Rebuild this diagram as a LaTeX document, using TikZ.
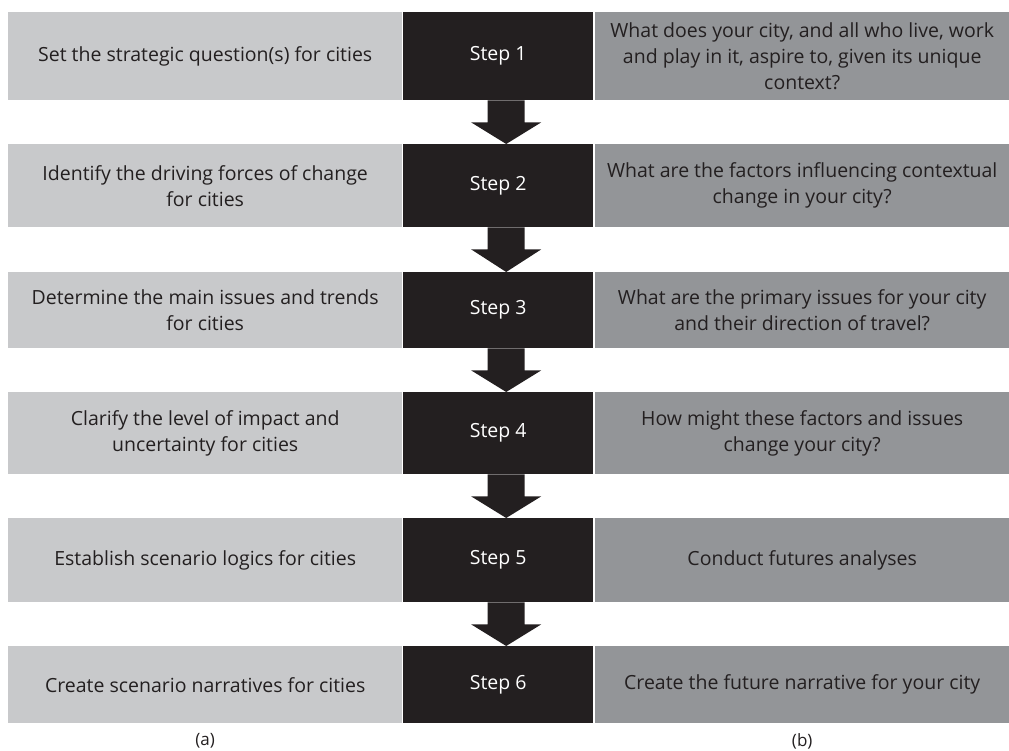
\documentclass[tikz,border=0pt]{standalone}
\usepackage{fontspec}
\setmainfont{Open Sans}
\usetikzlibrary{positioning,calc}
\definecolor{lightpanel}{HTML}{C8C9CB}
\definecolor{darkpanel}{HTML}{939598}
\definecolor{stepblack}{HTML}{231F20}
\definecolor{inktext}{HTML}{231F20}
\tikzset{
  cell/.style={
    anchor=north west,
    inner sep=0pt,
    align=center,
    text=inktext,
    font=\fontsize{19.5}{26}\selectfont
  },
  question/.style={cell, fill=lightpanel, minimum width=394pt},
  stepbox/.style={cell, fill=stepblack, text=white, minimum width=190pt},
  answer/.style={cell, fill=darkpanel, minimum width=414pt},
  arrowfill/.style={fill=stepblack},
  caption/.style={inner sep=0pt, text=inktext, font=\fontsize{17}{20}\selectfont}
}
% block arrow from one step box down to the next
\newcommand{\steparrow}[2]{\fill[arrowfill] ($(#1.south)+(-10.5,0)$) -- ($(#1.south)+(26.5,0)$)
  -- ($(#1.south)+(26.5,22)$) -- ($(#1.south)+(43,22)$) -- ($(#2.north)+(8,0)$)
  -- ($(#1.south)+(-27,22)$) -- ($(#1.south)+(-10.5,22)$) -- cycle;}

\begin{document}
\begin{tikzpicture}[x=1pt, y=-1pt]
  \useasboundingbox (0,0) rectangle (1009,751);
  % row 1
  \node[question, minimum height=88pt] (q1) at (8,12) {Set the strategic question(s) for cities};
  \node[stepbox, minimum height=88pt] (s1) at (403,12) {Step 1};
  \node[answer, minimum height=88pt] (a1) at (595,12) {What does your city, and all who live, work\\and play in it, aspire to, given its unique\\context?};
  % row 2
  \node[question, minimum height=83pt] (q2) at (8,144) {Identify the driving forces of change\\for cities};
  \node[stepbox, minimum height=83pt] (s2) at (403,144) {Step 2};
  \node[answer, minimum height=83pt] (a2) at (595,144) {What are the factors influencing contextual\\change in your city?};
  % row 3
  \node[question, minimum height=76pt] (q3) at (8,272) {Determine the main issues and trends\\for cities};
  \node[stepbox, minimum height=76pt] (s3) at (403,272) {Step 3};
  \node[answer, minimum height=76pt] (a3) at (595,272) {What are the primary issues for your city\\and their direction of travel?};
  % row 4
  \node[question, minimum height=82pt] (q4) at (8,392) {Clarify the level of impact and\\uncertainty for cities};
  \node[stepbox, minimum height=82pt] (s4) at (403,392) {Step 4};
  \node[answer, minimum height=82pt] (a4) at (595,392) {How might these factors and issues\\change your city?};
  % row 5
  \node[question, minimum height=84pt] (q5) at (8,518) {Establish scenario logics for cities};
  \node[stepbox, minimum height=84pt] (s5) at (403,518) {Step 5};
  \node[answer, minimum height=84pt] (a5) at (595,518) {Conduct futures analyses};
  % row 6
  \node[question, minimum height=77pt] (q6) at (8,646) {Create scenario narratives for cities};
  \node[stepbox, minimum height=77pt] (s6) at (403,646) {Step 6};
  \node[answer, minimum height=77pt] (a6) at (595,646) {Create the future narrative for your city};
  % arrows
  \steparrow{s1}{s2}
  \steparrow{s2}{s3}
  \steparrow{s3}{s4}
  \steparrow{s4}{s5}
  \steparrow{s5}{s6}
  % captions
  \node[caption, below=10pt of q6] (capa) {(a)};
  \node[caption, below=10pt of a6] (capb) {(b)};
\end{tikzpicture}
\end{document}
